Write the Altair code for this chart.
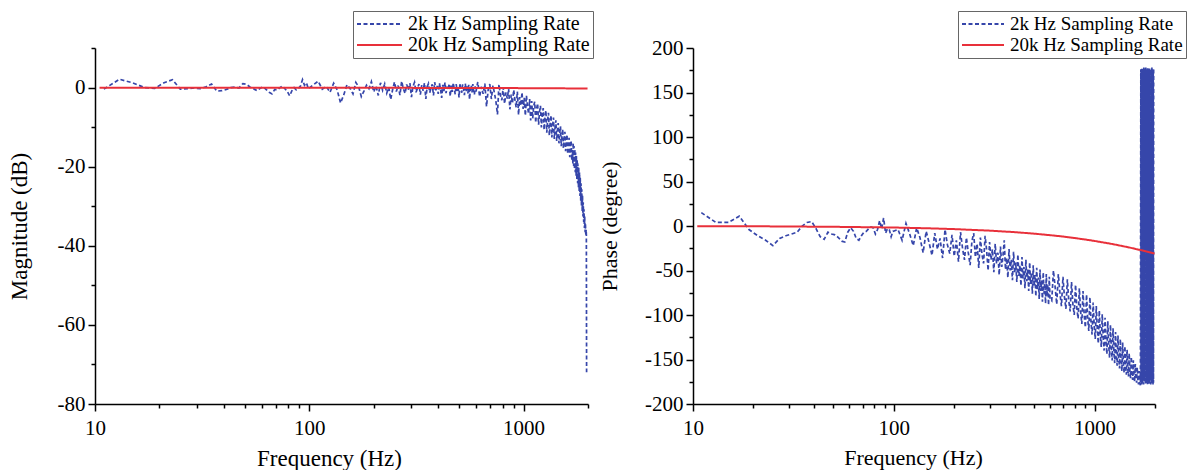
import altair as alt
import pandas as pd

# ---------------- data ----------------
SERIES = ["2k Hz Sampling Rate", "20k Hz Sampling Rate"]

# frequency bins of the 2k Hz record (Hz)
freq_a = list(range(11, 100, 2))
freq_b = list(range(105, 601, 5))
freq_c = list(range(612, 1693, 12))
freq_d = list(range(1700, 1971, 5))

mag_a = [-0.4, 2.1, 1.2, 0.0, -0.2, 1.2, 2.0, -0.4, -0.3, -0.1,
         -0.3, 0.2, 0.9, -0.9, -0.8, -0.5, 0.0, 0.1, -0.1, 1.0,
         0.8, 0.1, -0.3, -0.8, -0.2, 0.2, -0.5, -1.2, -1.6, -0.5,
         -0.6, 0.0, 0.4, -0.3, -1.0, -2.1, -0.8, 0.0, -0.6, -0.2,
         0.4, 2.0, 0.6, 1.2, -0.3]
mag_b = [0.8, 1.6, -0.4, 0.3, -1.2, 1.1, -0.6, -3.9, -1.8, 0.7,
         -0.2, -1.6, 1.3, 0.2, -2.3, -0.9, 0.6, -0.3, 1.5, -1.1,
         0.4, -2.0, 1.2, -0.7, 0.9, -1.4, 0.1, -3.0, -0.5, 1.4,
         -1.0, 0.5, -1.9, 1.6, -0.3, -1.5, 0.8, -0.6, 1.1, -2.4,
         0.3, 1.3, -1.2, -0.2, 0.9, -1.8, 0.6, -0.8, 1.2, -2.9,
         0.2, 1.0, -1.3, -0.1, 0.8, -2.0, 1.4, -0.7, 0.4, -1.6,
         1.1, -0.4, -2.6, 0.7, -0.9, 1.3, -1.4, 0.2, -0.6, 1.0,
         -2.2, 0.5, -1.1, 1.2, -0.3, -1.7, 0.9, -0.8, 0.3, -2.5,
         1.1, -0.5, -1.3, 0.8, -0.2, -1.9, 1.0, -0.9, 0.4, -1.5,
         0.7, -3.0, -0.4, 0.6, -1.2, 0.9, -0.6, -1.8, 0.3, -1.0]
mag_c = [1.4, -2.3, 0.2, -1.6, 1.0, -4.8, -0.6, 0.9, -2.9, 0.5,
         -1.4, -3.6, -6.8, 0.8, -1.9, -3.2, 0.1, -4.1, -1.2, -2.8,
         -0.3, -5.5, -1.8, -4.0, -0.6, -3.1, -5.0, -1.0, -6.9, -2.4,
         -4.6, -1.2, -5.4, -2.6, -7.1, -2.0, -4.8, -6.6, -2.9, -8.3,
         -3.4, -7.8, -4.6, -3.6, -8.9, -5.3, -4.0, -9.4, -6.1, -4.6,
         -10.1, -6.8, -5.2, -10.7, -7.5, -5.8, -11.4, -8.2, -6.4, -12.1,
         -8.9, -7.0, -12.6, -9.5, -7.6, -13.0, -10.1, -8.3, -13.5, -10.8,
         -9.0, -14.1, -11.5, -9.8, -14.8, -12.1, -10.5, -15.4, -12.8, -11.2,
         -16.1, -13.5, -11.9, -16.8, -14.2, -12.7, -17.6, -15.0, -13.4, -18.4,
         -15.8]
mag_d = [-19.2, -14.0, -17.0, -19.8, -14.8, -17.9, -20.6, -15.6, -18.6, -21.4,
         -16.4, -19.4, -22.3, -17.3, -20.3, -23.2, -18.2, -21.2, -24.2, -19.2,
         -22.2, -25.2, -20.3, -23.3, -26.3, -21.5, -24.5, -27.4, -22.8, -25.7,
         -28.6, -24.2, -27.0, -29.9, -25.7, -28.4, -31.2, -27.3, -30.0, -32.6,
         -29.0, -31.6, -34.0, -30.8, -33.2, -35.5, -32.6, -34.8, -36.6, -34.3,
         -36.2, -37.4, -35.9, -37.2, -72.0]

ph_a = [15, 4, 4, 11, -4, -11, -16, -22, -14, -11,
        -9, -7, 0, 4, 5, -3, -12, -15, -7, -9,
        -10, -13, -17, -18, -7, -2, -6, -14, -16, -11,
        -7, -6, -3, -1, -2, -9, -4, 6, -3, 9,
        -8, -3, -4, -12, -6]
ph_b = [-4, -16, 3, -9, -22, -2, -13, -30, -6, -19,
        -33, -8, -26, -14, -36, -4, -21, -31, -10, -34,
        -16, -40, -7, -25, -38, -13, -30, -44, -17, -8,
        -35, -20, -47, -13, -32, -42, -11, -27, -50, -18,
        -38, -26, -52, -20, -42, -30, -55, -23, -46, -33,
        -16, -49, -36, -58, -26, -50, -38, -61, -29, -53,
        -41, -63, -32, -56, -44, -67, -35, -59, -46, -70,
        -38, -62, -49, -73, -41, -65, -52, -76, -44, -68,
        -55, -79, -47, -71, -58, -82, -49, -73, -61, -85,
        -52, -76, -64, -87, -54, -79, -66, -89, -57, -82]
ph_c = [-84, -50, -68, -88, -54, -75, -90, -57, -80, -93,
        -60, -84, -96, -63, -88, -100, -66, -92, -104, -70,
        -96, -110, -73, -100, -114, -77, -104, -118, -80, -108,
        -122, -86, -112, -127, -90, -116, -132, -95, -121, -136,
        -99, -125, -140, -103, -130, -144, -107, -134, -148, -111,
        -138, -151, -115, -142, -154, -119, -146, -157, -123, -149,
        -160, -127, -152, -163, -131, -155, -165, -135, -158, -167,
        -139, -161, -169, -143, -164, -171, -147, -166, -173, -151,
        -169, -175, -155, -171, -176, -159, -174, -178, -163, -176,
        -179]
ph_d = [176, -174, 171, -178, 178, -172, 174, -177, 177, -175,
        172, -178, 178, -173, 175, -176, 177, -174, 173, -178,
        178, -175, 174, -177, 176, -173, 172, -178, 178, -176,
        175, -174, 177, -178, 173, -175, 178, -177, 174, -173,
        176, -178, 177, -174, 172, -176, 178, -177, 175, -173,
        177, -178, 174, -176, 178]

# 20k Hz record (smooth)
freq_red = [10.5, 20, 50, 100, 150, 200, 300, 400, 500, 600, 700, 800,
            900, 1000, 1100, 1200, 1300, 1400, 1500, 1600, 1700, 1800, 1900, 1990]
mag_red = [-0.05, -0.05, -0.05, -0.06, -0.06, -0.07, -0.08, -0.09, -0.10, -0.11,
           -0.12, -0.13, -0.14, -0.15, -0.16, -0.17, -0.18, -0.19, -0.20, -0.21,
           -0.22, -0.23, -0.24, -0.25]
ph_red = [-0.2, -0.3, -0.9, -1.7, -2.6, -3.5, -5.2, -6.9, -8.6, -10.3, -11.9, -13.6,
          -15.2, -16.8, -18.4, -19.9, -21.4, -22.9, -24.3, -25.8, -27.1, -28.5, -29.8, -30.9]

x_minor = [10, 20, 30, 40, 50, 60, 70, 80, 90, 100, 200, 300, 400, 500, 600,
           700, 800, 900, 1000, 2000]
x_major = [10, 100, 1000]
mag_ticks = [-80, -70, -60, -50, -40, -30, -20, -10, 0, 10]
ph_ticks = [-200, -175, -150, -125, -100, -75, -50, -25, 0, 25, 50, 75, 100,
            125, 150, 175, 200]

# ---------------- build tables ----------------
for fr, mg, ph in [(freq_a, mag_a, ph_a), (freq_b, mag_b, ph_b),
                   (freq_c, mag_c, ph_c), (freq_d, mag_d, ph_d)]:
    assert len(fr) == len(mg) == len(ph), (len(fr), len(mg), len(ph))
f_blue = freq_a + freq_b + freq_c + freq_d
m_blue = mag_a + mag_b + mag_c + mag_d
p_blue = ph_a + ph_b + ph_c + ph_d
blue = pd.DataFrame({"f": f_blue, "mag": m_blue, "phase": p_blue, "series": SERIES[0]})
red = pd.DataFrame({"f": freq_red, "mag": mag_red, "phase": ph_red, "series": SERIES[1]})

FONT = "Liberation Serif"
BLUE = "#3646aa"
RED = "#e8303a"

major_test = " || ".join(f"datum.value == {v}" for v in x_major)


def x_axis(lsize, tsize, tx):
    return alt.Axis(
        title="Frequency (Hz)", values=x_minor,
        labelExpr=f"({major_test}) ? '' + datum.value : ''",
        tickSize={"condition": {"test": major_test, "value": 7}, "value": 4},
        labelOverlap=False, labelFlush=False, labelPadding=6, titlePadding=9,
        titleX=tx,
        labelFont=FONT, labelFontSize=lsize, titleFont=FONT, titleFontSize=tsize,
    )


def y_axis(title, values, step, tpad, lsize, tsize):
    test = f"datum.value % {step} == 0"
    return alt.Axis(
        title=title, values=values,
        labelExpr=f"{test} ? '' + datum.value : ''",
        tickSize={"condition": {"test": test, "value": 7}, "value": 4},
        labelOverlap=False, labelFlush=False, labelPadding=3, titlePadding=tpad,
        labelFont=FONT, labelFontSize=lsize, titleFont=FONT, titleFontSize=tsize,
    )


def legend(lx, fsize, sym):
    return alt.Legend(
        orient="none", legendX=lx, legendY=-37, title=None,
        labelFont=FONT, labelFontSize=fsize, labelColor="black", labelLimit=0,
        symbolType="stroke", symbolSize=sym * sym, symbolStrokeWidth=2,
        clipHeight=20, labelOffset=5,
        strokeColor="#666666", fillColor="white", padding=3, rowPadding=1,
    )


def panel(ycol, ytitle, ydom, yvals, ystep, tpad, lx, width, lsize, tsize, legsize, sym, tx):
    xs = alt.X("f:Q", scale=alt.Scale(type="log", domain=[10, 2000], nice=False),
               axis=x_axis(lsize, tsize, tx))
    ys = alt.Y(f"{ycol}:Q", scale=alt.Scale(domain=ydom, nice=False, zero=False),
               axis=y_axis(ytitle, yvals, ystep, tpad, lsize, tsize))
    color = alt.Color("series:N", scale=alt.Scale(domain=SERIES, range=[BLUE, RED]),
                      legend=legend(lx, legsize, sym))
    dash = alt.StrokeDash("series:N", scale=alt.Scale(domain=SERIES, range=[[4, 2.5], [1, 0]]),
                          legend=legend(lx, legsize, sym))
    b = alt.Chart(blue).mark_line(strokeWidth=1.7, clip=True).encode(
        x=xs, y=ys, color=color, strokeDash=dash)
    r = alt.Chart(red).mark_line(strokeWidth=2, clip=True).encode(
        x=xs, y=ys, color=color, strokeDash=dash)
    return alt.layer(b, r).properties(width=width, height=356)


left = panel("mag", "Magnitude (dB)", [-80, 10], mag_ticks, 20, 26, 258, 493,
             21, 23, 20, 45, 234)
right = panel("phase", "Phase (degree)", [-200, 200], ph_ticks, 50, 23, 265, 462,
              21, 22, 19, 42, 220)

chart = alt.hconcat(left, right, spacing=4).resolve_legend(
    color="independent", strokeDash="independent"
).properties(
    padding={"left": 8, "top": 10, "right": 0, "bottom": 0},
    background="white",
).configure_view(stroke=None).configure_axis(
    domainColor="black", domainWidth=1.5, tickColor="black", tickWidth=1.5,
    labelFont=FONT, labelColor="black",
    titleFont=FONT, titleFontWeight="normal", titleColor="black",
    grid=False,
)

chart.save("out.html", embed_options={"renderer": "svg", "actions": False})
